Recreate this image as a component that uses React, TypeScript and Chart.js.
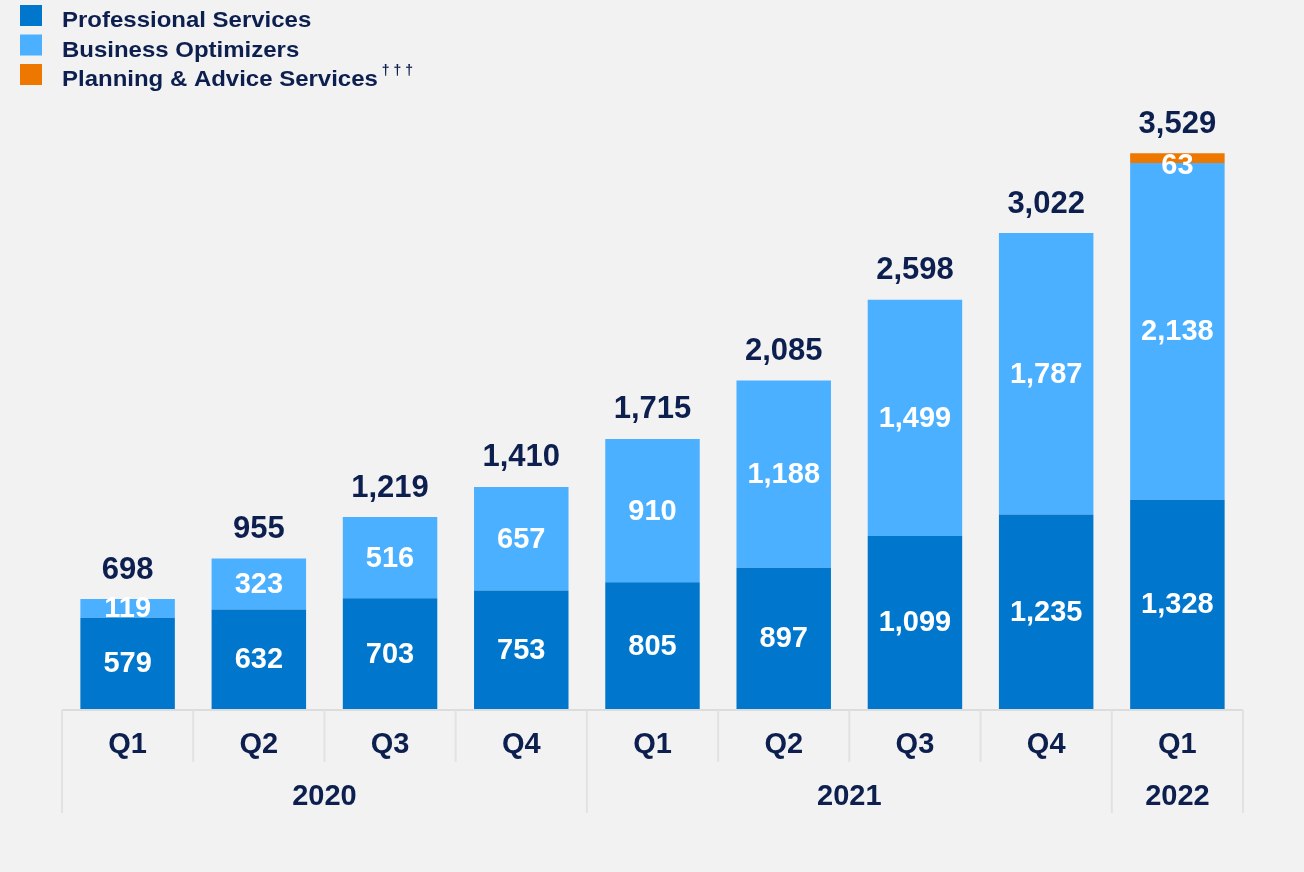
import React, { useEffect, useRef } from "react";
import { Chart, registerables } from "chart.js";

Chart.register(...registerables);

const categories = ["Q1", "Q2", "Q3", "Q4", "Q1", "Q2", "Q3", "Q4", "Q1"];
const years = ["2020", "2021", "2022"];
const yearSpans = [4, 4, 1];
const professional = [579, 632, 703, 753, 805, 897, 1099, 1235, 1328];
const optimizers = [119, 323, 516, 657, 910, 1188, 1499, 1787, 2138];
const planning = [0, 0, 0, 0, 0, 0, 0, 0, 63];
const totals = [698, 955, 1219, 1410, 1715, 2085, 2598, 3022, 3529];
const seriesNames = ["Professional Services", "Business Optimizers", "Planning & Advice Services"];
const seriesColors = ["#0077CC", "#4AB0FF", "#EE7700"];

const NAVY = "#0D1F4E";
const FONT = '"Liberation Sans", Arial, sans-serif';

const overlayPlugin = {
  id: "overlay",
  beforeDraw(chart: any) {
    const ctx = chart.ctx;
    ctx.save();
    ctx.fillStyle = "#f2f2f2";
    ctx.fillRect(0, 0, chart.width, chart.height);
    ctx.restore();
  },
  afterDatasetsDraw(chart: any) {
    const ctx = chart.ctx;
    const area = chart.chartArea;
    const x = chart.scales.x;
    const y = chart.scales.y;
    const n = categories.length;
    const step = (area.right - area.left) / n;
    ctx.save();

    // segment labels
    ctx.textAlign = "center";
    ctx.textBaseline = "middle";
    chart.data.datasets.forEach((ds: any, di: number) => {
      const meta = chart.getDatasetMeta(di);
      meta.data.forEach((el: any, i: number) => {
        const v = ds.data[i];
        if (!v) return;
        const offset = di === 2 ? 7 : 0;
        ctx.fillStyle = "#ffffff";
        ctx.font = `bold 29px ${FONT}`;
        ctx.fillText(v.toLocaleString("en-US"), el.x, (el.y + el.base) / 2 + offset + 1);
      });
    });

    // totals
    totals.forEach((t, i) => {
      ctx.fillStyle = NAVY;
      ctx.font = `bold 31px ${FONT}`;
      ctx.fillText(t.toLocaleString("en-US"), x.getPixelForValue(i), y.getPixelForValue(t) - 29);
    });

    // x axis
    const base = area.bottom;
    ctx.strokeStyle = "#dcdcdc";
    ctx.lineWidth = 2;
    ctx.beginPath();
    ctx.moveTo(area.left, base + 1);
    ctx.lineTo(area.right, base + 1);
    ctx.stroke();

    const yearBounds = new Set<number>();
    let acc = 0;
    yearBounds.add(0);
    yearSpans.forEach((s) => {
      acc += s;
      yearBounds.add(acc);
    });
    ctx.strokeStyle = "#e2e2e2";
    for (let i = 0; i <= n; i++) {
      const px = area.left + i * step;
      ctx.beginPath();
      ctx.moveTo(px, base + 1);
      ctx.lineTo(px, yearBounds.has(i) ? base + 104 : base + 53);
      ctx.stroke();
    }

    ctx.fillStyle = NAVY;
    ctx.font = `bold 29px ${FONT}`;
    categories.forEach((c, i) => {
      ctx.fillText(c, x.getPixelForValue(i), base + 36);
    });
    let start = 0;
    years.forEach((yr, k) => {
      const s = yearSpans[k];
      const cx = area.left + (start + s / 2) * step;
      ctx.fillText(yr, cx, base + 88);
      start += s;
    });

    // legend
    ctx.textAlign = "left";
    ctx.textBaseline = "alphabetic";
    seriesNames.forEach((name, i) => {
      const top = 5 + i * 29.5;
      ctx.fillStyle = seriesColors[i];
      ctx.fillRect(20, top, 22, 21);
      ctx.fillStyle = NAVY;
      ctx.font = `bold 22px ${FONT}`;
      const w = ctx.measureText(name).width * 1.09;
      ctx.save();
      ctx.translate(62, top + 22);
      ctx.scale(1.09, 1);
      ctx.fillText(name, 0, 0);
      ctx.restore();
      if (i === 2) {
        ctx.font = `bold 14px ${FONT}`;
        ctx.fillText("† † †", 62 + w + 4, top + 11);
      }
    });

    ctx.restore();
  },
};

export default function App() {
  const ref = useRef<HTMLCanvasElement | null>(null);
  useEffect(() => {
    document.body.style.margin = "0";
    document.body.style.background = "#f2f2f2";
    if (!ref.current) return;
    const chart = new Chart(ref.current, {
      type: "bar",
      data: {
        labels: categories,
        datasets: [
          { label: seriesNames[0], data: professional, backgroundColor: seriesColors[0] },
          { label: seriesNames[1], data: optimizers, backgroundColor: seriesColors[1] },
          { label: seriesNames[2], data: planning, backgroundColor: seriesColors[2] },
        ].map((d) => ({ ...d, borderWidth: 0, categoryPercentage: 1, barPercentage: 0.72 })),
      },
      options: {
        responsive: false,
        animation: false,
        devicePixelRatio: 1,
        layout: { padding: { left: 62, right: 61, top: 79, bottom: 163 } },
        plugins: { legend: { display: false }, tooltip: { enabled: false } },
        scales: {
          x: { stacked: true, display: false },
          y: { stacked: true, display: false, min: 0, max: 4000 },
        },
      },
      plugins: [overlayPlugin],
    });
    return () => chart.destroy();
  }, []);
  return <canvas ref={ref} width={1304} height={872} style={{ display: "block" }} />;
}
